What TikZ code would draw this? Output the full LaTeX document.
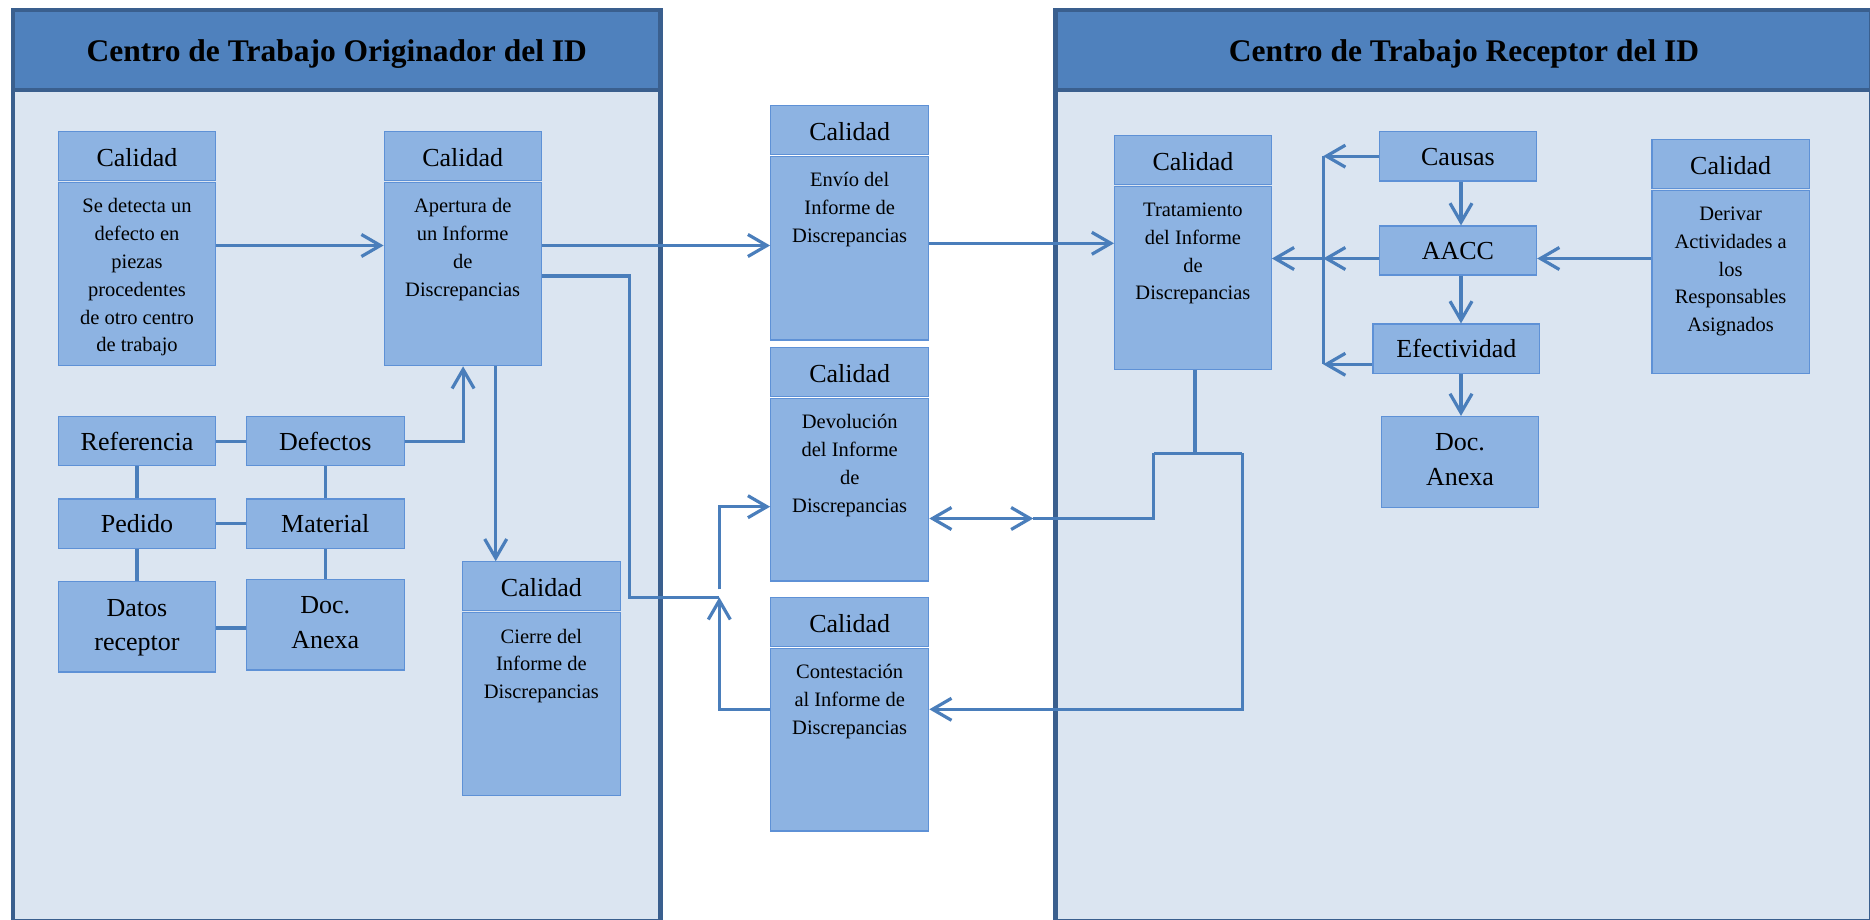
\documentclass[tikz,border=0pt]{standalone}
\usepackage{fontspec}
\setmainfont{Liberation Serif}
\usetikzlibrary{arrows.meta,fit,calc}

\definecolor{hdrblue}{HTML}{4F81BD}
\definecolor{paneledge}{HTML}{3A5F8E}
\definecolor{panelbg}{HTML}{DBE5F1}
\definecolor{boxfill}{HTML}{8DB3E2}
\definecolor{boxedge}{HTML}{5E91D6}
\definecolor{linkblue}{HTML}{4A7EBB}

% strut that fixes the height of the first line of a multi-line label
\newcommand\firstln{\rule{0pt}{22pt}}

% box drawn from its corners (x1,y1) (x2,y2)
\newcommand\plainbox[5]{\node[boxst, fit={(#2,#3) (#4,#5)}] (#1) {};}

% box with a one-line label
\newcommand\onebox[6]{%
  \plainbox{#1}{#2}{#3}{#4}{#5}
  \node[hdtext, anchor=base] (#1l) at ({(#2+#4)/2},{(#3+#5)/2+9}) {#6};
}

% box with a two-line label
\newcommand\twobox[6]{%
  \plainbox{#1}{#2}{#3}{#4}{#5}
  \node[bigtext] (#1l) at ({(#2+#4)/2},#3+12) {\firstln #6};
}

% "Calidad" header box over a task box
\newcommand\calbox[6]{%
  \node[boxst, fit={(#2,#3) (#4,#3+49)}] (#1h) {};
  \node[boxst, fit={(#2,#3+51) (#4,#5)}] (#1b) {};
  \node[hdtext, anchor=base] (#1c) at ({(#2+#4)/2},#3+35) {Calidad};
  \node[bodytext] (#1t) at ({(#2+#4)/2},#3+59) {\firstln #6};
}

\tikzset{
  boxst/.style={draw=boxedge, fill=boxfill, line width=1.2pt, inner sep=0pt},
  hdtext/.style={font=\fontsize{26}{31}\selectfont, inner sep=0pt},
  bodytext/.style={font=\fontsize{20.5}{27.8}\selectfont, align=center, anchor=north, inner sep=0pt},
  bigtext/.style={font=\fontsize{26}{34.4}\selectfont, align=center, anchor=north, inner sep=0pt},
  titletext/.style={font=\bfseries\fontsize{31.5}{36}\selectfont, inner sep=0pt, anchor=base},
  panelline/.style={draw=paneledge, line width=4.5pt},
  conn/.style={draw=linkblue, line width=3.2pt},
  barb/.tip={Straight Barb[length=19pt,width=22pt]},
  arr/.style={conn, -barb},
}

\begin{document}
\begin{tikzpicture}[x=1pt, y=-1pt]
\useasboundingbox (0,0) rectangle (1870,920);
\clip (0,0) rectangle (1870,920);
\fill[white] (0,0) rectangle (1870,920);

% ---- swimlanes (they run past the lower and right edges) ----
\fill[panelbg] (13,10) rectangle (660.5,921.5);
\fill[hdrblue] (13,10) rectangle (660.5,90);
\draw[panelline] (13,10) rectangle (660.5,921.5);
\draw[panelline] (13,90) -- (660.5,90);
\node[titletext] (lanel) at (336.8,61.5) {Centro de Trabajo Originador del ID};

\fill[panelbg] (1055.3,10) rectangle (1871.5,921.5);
\fill[hdrblue] (1055.3,10) rectangle (1871.5,90);
\draw[panelline] (1055.3,10) rectangle (1871.5,921.5);
\draw[panelline] (1055.3,90) -- (1871.5,90);
\node[titletext] (laner) at (1464,61.5) {Centro de Trabajo Receptor del ID};

% ---- originating work centre ----
\calbox{A}{58.5}{131.7}{215.5}{365.7}{Se detecta un\\defecto en\\piezas\\procedentes\\de otro centro\\de trabajo}
\calbox{B}{384.2}{131.7}{541.2}{365.7}{Apertura de\\un Informe\\de\\Discrepancias}
\calbox{C}{462.7}{561.8}{620.1}{795.6}{Cierre del\\Informe de\\Discrepancias}

\onebox{ref}{58.5}{416.5}{215.5}{465.7}{Referencia}
\onebox{def}{246.3}{416.5}{404.2}{465.7}{Defectos}
\onebox{ped}{58.5}{499}{215.5}{548.4}{Pedido}
\onebox{mat}{246.3}{499}{404.2}{548.4}{Material}
\twobox{dat}{58.5}{581.8}{215.5}{672}{Datos\\receptor}
\twobox{doc}{246.3}{579.7}{404.2}{670}{Doc.\\Anexa}

% ---- exchanged reports ----
\calbox{E}{770.7}{105.7}{928.7}{340}{Envío del\\Informe de\\Discrepancias}
\calbox{D}{770.7}{347.7}{928.7}{581}{Devolución\\del Informe\\de\\Discrepancias}
\calbox{K}{770.7}{597.3}{928.7}{831}{Contestación\\al Informe de\\Discrepancias}

% ---- receiving work centre ----
\calbox{T}{1114.6}{135.3}{1271.3}{369.3}{Tratamiento\\del Informe\\de\\Discrepancias}
\calbox{R}{1652}{139.3}{1809.2}{373.3}{Derivar\\Actividades a\\los\\Responsables\\Asignados}
\onebox{cau}{1379.3}{131.3}{1536.6}{181}{Causas}
\onebox{aac}{1379.3}{226}{1536.6}{275}{AACC}
\onebox{efe}{1373}{324}{1539.7}{373.3}{Efectividad}
\twobox{dcr}{1381.4}{416.5}{1538.7}{507.4}{Doc.\\Anexa}

% ---- routing points ----
\coordinate (yA) at (0,245.5);
\coordinate (yE) at (0,243.3);
\coordinate (yB) at (0,276);
\coordinate (j1) at (629.7,597.3);
\coordinate (j2) at (719.3,597.3);
\coordinate (j3) at (719.3,589.3);
\coordinate (yC) at (0,709.3);
\coordinate (yD) at (0,506.7);
\coordinate (xF) at (463.1,0);
\coordinate (xG) at (495.7,0);
\coordinate (yH) at (0,628);
\coordinate (tM) at (1195,453.3);
\coordinate (tL) at (1153.8,453.3);
\coordinate (tR) at (1242.2,453.3);
\coordinate (dd) at (1033.3,518.5);
\coordinate (busX) at (1323.2,0);
\coordinate (yK) at (0,258.5);
\coordinate (yL) at (0,364.3);
\coordinate (xV) at (1461,0);

% ---- connectors, left lane ----
\draw[arr] (Ab.east |- yA) -- (Bb.west |- yA);
\draw[arr] (def.east) -| (Bb.south -| xF);
\draw[arr] (Bb.south -| xG) -- (Ch.north -| xG);
\draw[conn] (ref.east) -- (def.west);
\draw[conn] (ped.east) -- (mat.west);
\draw[conn] (dat.east |- yH) -- (doc.west |- yH);
\draw[conn] (ref.south) -- (ped.north);
\draw[conn] (ped.south) -- (dat.north);
\draw[conn] (def.south) -- (mat.north);
\draw[conn] (mat.south) -- (doc.north);

% ---- connectors between lanes ----
\draw[arr] (Bb.east |- yA) -- (Eb.west |- yA);
\draw[arr] (Eb.east |- yE) -- (Tb.west |- yE);
\draw[conn] (Bb.east |- yB) -| (j1) -- (j2);
\draw[arr] (Kb.west |- yC) -| (j2);
\draw[arr] (j3) |- (Db.west |- yD);
\draw[conn] (Tb.south -| tM) -- (tM);
\draw[conn] (tL) -- (tR);
\draw[conn] (tL) |- (dd);
\draw[conn, barb-barb] (Db.east |- dd) -- (dd);
\draw[arr] (tR) |- (Kb.east |- yC);

% ---- connectors, right lane ----
\draw[conn] (cau.west -| busX) -- (busX |- yL);
\draw[arr] (cau.west) -- (cau.west -| busX);
\draw[arr] (aac.west |- yK) -- (busX |- yK);
\draw[arr] (busX |- yK) -- (Tb.east |- yK);
\draw[arr] (efe.west |- yL) -- (busX |- yL);
\draw[arr] (cau.south -| xV) -- (aac.north -| xV);
\draw[arr] (aac.south -| xV) -- (efe.north -| xV);
\draw[arr] (efe.south -| xV) -- (dcr.north -| xV);
\draw[arr] (Rb.west |- yK) -- (aac.east |- yK);
\end{tikzpicture}
\end{document}
